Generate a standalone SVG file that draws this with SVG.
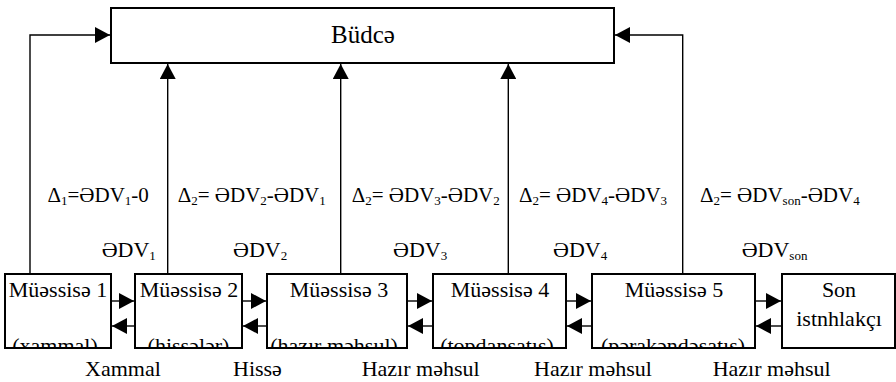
<svg xmlns="http://www.w3.org/2000/svg" width="896" height="382" viewBox="0 0 896 382">
<style>
text{font-family:'Liberation Serif','DejaVu Serif',serif;fill:#000;font-size:22px}
.box{fill:#fff;stroke:#000;stroke-width:2}
.ln{fill:none;stroke:#000;stroke-width:1.4}
.c{text-anchor:middle}
.d{font-size:21px}
.sub{font-size:13px}
</style>
<defs>
<marker id="ah" markerWidth="15" markerHeight="16" refX="15" refY="8" orient="auto" markerUnits="userSpaceOnUse"><path d="M0,0 L15,8 L0,16 z" fill="#000"/></marker>
<clipPath id="clipb" clipPathUnits="userSpaceOnUse"><rect x="0" y="0" width="896" height="347"/></clipPath>
</defs>
<g id="connectors">
<polyline class="ln" points="30,274 30,35 110,35" marker-end="url(#ah)"/>
<line class="ln" x1="167.7" y1="274" x2="167.7" y2="64" marker-end="url(#ah)"/>
<line class="ln" x1="340.7" y1="274" x2="340.7" y2="64" marker-end="url(#ah)"/>
<line class="ln" x1="508.3" y1="274" x2="508.3" y2="64" marker-end="url(#ah)"/>
<polyline class="ln" points="682.7,274 682.7,35 615,35" marker-end="url(#ah)"/>
<line class="ln" x1="111" y1="301" x2="134" y2="301" marker-end="url(#ah)"/>
<line class="ln" x1="135" y1="326" x2="112" y2="326" marker-end="url(#ah)"/>
<line class="ln" x1="242" y1="301" x2="266" y2="301" marker-end="url(#ah)"/>
<line class="ln" x1="267" y1="326" x2="243" y2="326" marker-end="url(#ah)"/>
<line class="ln" x1="407" y1="301" x2="432" y2="301" marker-end="url(#ah)"/>
<line class="ln" x1="433" y1="326" x2="408" y2="326" marker-end="url(#ah)"/>
<line class="ln" x1="566" y1="301" x2="591" y2="301" marker-end="url(#ah)"/>
<line class="ln" x1="592" y1="326" x2="567" y2="326" marker-end="url(#ah)"/>
<line class="ln" x1="755" y1="301" x2="781" y2="301" marker-end="url(#ah)"/>
<line class="ln" x1="782" y1="326" x2="756" y2="326" marker-end="url(#ah)"/>
</g>
<g id="budce">
<rect class="box" x="111" y="8" width="503" height="55"/>
<text class="c" x="363" y="43" style="font-size:25px">Büdcə</text>
</g>
<g id="labels">
<text class="d" x="47.5" y="202">Δ<tspan class="sub" dy="3">1</tspan><tspan dy="-3">=ƏDV</tspan><tspan class="sub" dy="3">1</tspan><tspan dy="-3">-0</tspan></text>
<text class="d" x="177.7" y="202">Δ<tspan class="sub" dy="3">2</tspan><tspan dy="-3">= ƏDV</tspan><tspan class="sub" dy="3">2</tspan><tspan dy="-3">-ƏDV</tspan><tspan class="sub" dy="3">1</tspan></text>
<text class="d" x="351.7" y="202">Δ<tspan class="sub" dy="3">2</tspan><tspan dy="-3">= ƏDV</tspan><tspan class="sub" dy="3">3</tspan><tspan dy="-3">-ƏDV</tspan><tspan class="sub" dy="3">2</tspan></text>
<text class="d" x="519" y="202">Δ<tspan class="sub" dy="3">2</tspan><tspan dy="-3">= ƏDV</tspan><tspan class="sub" dy="3">4</tspan><tspan dy="-3">-ƏDV</tspan><tspan class="sub" dy="3">3</tspan></text>
<text class="d" x="700" y="202">Δ<tspan class="sub" dy="3">2</tspan><tspan dy="-3">= ƏDV</tspan><tspan class="sub" dy="3">son</tspan><tspan dy="-3">-ƏDV</tspan><tspan class="sub" dy="3">4</tspan></text>
<text x="101.7" y="257">ƏDV<tspan class="sub" dy="3">1</tspan></text>
<text x="233" y="257">ƏDV<tspan class="sub" dy="3">2</tspan></text>
<text x="393" y="257">ƏDV<tspan class="sub" dy="3">3</tspan></text>
<text x="553" y="257">ƏDV<tspan class="sub" dy="3">4</tspan></text>
<text x="741.7" y="257">ƏDV<tspan class="sub" dy="3">son</tspan></text>
<text x="85" y="376">Xammal</text>
<text x="233" y="376">Hissə</text>
<text x="361.7" y="376">Hazır məhsul</text>
<text x="534" y="376">Hazır məhsul</text>
<text x="712.7" y="376">Hazır məhsul</text>
</g>
<g id="m1">
<rect class="box" x="5" y="274" width="106" height="74"/>
<text class="c" x="58" y="297">Müəssisə 1</text>
<text class="c" x="55" y="353" clip-path="url(#clipb)">(xammal)</text>
</g>
<g id="m2">
<rect class="box" x="135" y="274" width="107" height="74"/>
<text class="c" x="189" y="297">Müəssisə 2</text>
<text class="c" x="188.5" y="353" clip-path="url(#clipb)">(hissələr)</text>
</g>
<g id="m3">
<rect class="box" x="267" y="274" width="140" height="74"/>
<text class="c" x="339" y="297">Müəssisə 3</text>
<text class="c" x="334" y="353" clip-path="url(#clipb)">(hazır məhsul)</text>
</g>
<g id="m4">
<rect class="box" x="433" y="274" width="133" height="74"/>
<text class="c" x="500" y="297">Müəssisə 4</text>
<text class="c" x="497" y="353" clip-path="url(#clipb)">(topdansatış)</text>
</g>
<g id="m5">
<rect class="box" x="592" y="274" width="163" height="74"/>
<text class="c" x="674" y="297">Müəssisə 5</text>
<text class="c" x="673" y="353" clip-path="url(#clipb)">(pərakəndəsatış)</text>
</g>
<g id="son">
<rect class="box" x="782" y="274" width="113" height="74"/>
<text class="c" x="839" y="297">Son</text>
<text class="c" x="839" y="326">istnhlakçı</text>
</g>
</svg>
